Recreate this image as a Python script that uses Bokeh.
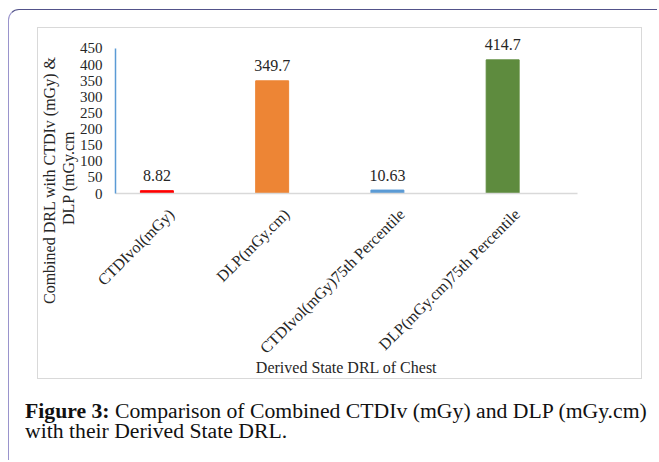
from math import pi

from bokeh.core.properties import value
from bokeh.embed import file_html
from bokeh.models import (Column, ColumnDataSource, Div, FixedTicker,
                          LabelSet, LinearAxis, Range1d, Title)
from bokeh.plotting import figure
from bokeh.resources import INLINE

# Derived state DRL of chest CT
categories = ["CTDIvol(mGy)", "DLP(mGy.cm)",
              "CTDIvol(mGy)75th Percentile", "DLP(mGy.cm)75th Percentile"]
values = [8.82, 349.7, 10.63, 414.7]
value_labels = ["8.82", "349.7", "10.63", "414.7"]
bar_colors = ["#ff0000", "#ed8535", "#5b9bd5", "#5e8b3e"]
y_ticks = [0, 50, 100, 150, 200, 250, 300, 350, 400, 450]

SERIF = "Liberation Serif"
TEXT = "#262626"

# bar slots sit at i + 0.5 on the x scale
slots = [i + 0.5 for i in range(len(categories))]

src = ColumnDataSource(dict(x=slots, val=values, lbl=value_labels,
                            color=bar_colors))

X_START, X_END = 0.1407, 4.1494
LABEL_SHIFT = 0.125         # slanted names hang a little right of each bar
Y_TOP = 487.24              # head-room above 450 for the value labels

p = figure(x_range=Range1d(X_START, X_END), y_range=Range1d(0, Y_TOP),
           width=603, height=350,
           min_border_left=76, min_border_right=64,
           min_border_top=8, min_border_bottom=185,
           x_axis_location=None,
           output_backend="svg", toolbar_location=None)
p.outline_line_color = None
p.grid.visible = False

p.vbar(x="x", top="val", width=0.286, color="color", source=src)

p.add_layout(LabelSet(x="x", y="val", text="lbl", source=src,
                      y_offset=15, text_align="center", text_baseline="middle",
                      text_font=value(SERIF), text_font_size="16px",
                      text_color=TEXT))

# value axis
ya = p.yaxis[0]
ya.ticker = FixedTicker(ticks=y_ticks)
ya.bounds = (0, 450)
ya.axis_line_color = "#5b9bd5"
ya.axis_line_width = 1.5
ya.major_tick_line_color = None
ya.minor_tick_line_color = None
ya.major_tick_out = 0
ya.major_label_standoff = 13
ya.major_label_text_font = SERIF
ya.major_label_text_font_size = "15px"
ya.major_label_text_color = TEXT

# category axis with slanted names
p.extra_x_ranges = {"names": Range1d(X_START - LABEL_SHIFT, X_END - LABEL_SHIFT)}
xa = LinearAxis(x_range_name="names",
                ticker=FixedTicker(ticks=slots),
                major_label_overrides={s: c for s, c in zip(slots, categories)},
                major_label_orientation=pi / 4,
                axis_label="Derived State DRL of Chest")
xa.axis_line_color = "#d9d9d9"
xa.axis_line_width = 1.5
xa.major_tick_line_color = None
xa.minor_tick_line_color = None
xa.major_tick_out = 0
xa.major_label_standoff = 18
xa.major_label_text_font = SERIF
xa.major_label_text_font_size = "16px"
xa.major_label_text_color = TEXT
xa.axis_label_standoff = -7
xa.axis_label_text_font = SERIF
xa.axis_label_text_font_size = "16px"
xa.axis_label_text_font_style = "normal"
xa.axis_label_text_color = TEXT
p.add_layout(xa, "below")

# two-line value-axis title, starting below the frame and reading upward
p.add_layout(Title(text="DLP (mGy.cm", align="left", offset=-31.5,
                   standoff=0, text_font=SERIF, text_font_size="16px",
                   text_font_style="normal", text_color=TEXT), "left")
p.add_layout(Title(text="Combined DRL with CTDIv (mGy)  &", align="left",
                   offset=-110.5, standoff=0, text_font=SERIF,
                   text_font_size="16px", text_font_style="normal",
                   text_color=TEXT), "left")

chart_box = Column(children=[p], margin=(17, 0, 0, 28),
                   styles={"border": "1px solid #d9d9d9"})

caption = Div(
    text=("<b>Figure 3:</b> Comparison of Combined CTDIv (mGy) and DLP (mGy.cm)"
          "<br>with their Derived State DRL."),
    width=630, height=50, margin=(22, 0, 0, 16),
    styles={"font-family": SERIF, "font-size": "20px", "line-height": "20px",
            "color": "#111111", "white-space": "nowrap",
            "transform": "scaleX(1.085)", "transform-origin": "left top"})

page = Column(children=[chart_box, caption], width=649, height=451,
              margin=(9, 0, 0, 8),
              styles={"border-top": "1.5px solid #52528a",
                      "border-left": "1.5px solid #9a94cc",
                      "border-top-left-radius": "11px",
                      "overflow": "hidden"})

open("out.html", "w").write(file_html(page, INLINE))
